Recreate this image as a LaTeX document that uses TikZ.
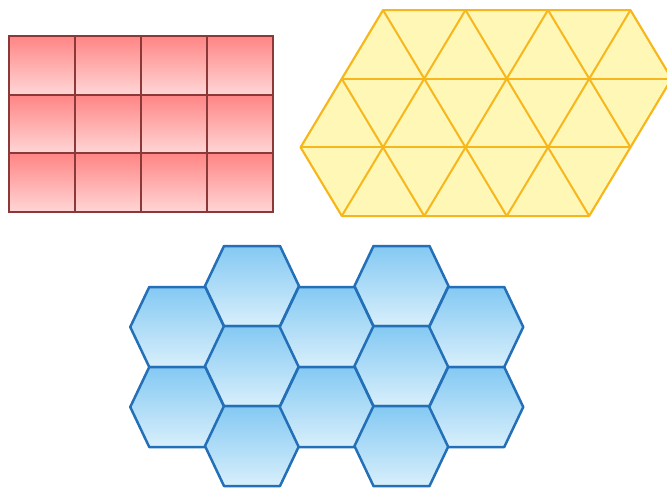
\documentclass[tikz,border=0pt]{standalone}
\usepackage{tikz}

\definecolor{redtop}{HTML}{FF8585}
\definecolor{redbot}{HTML}{FFD6D6}
\definecolor{redline}{HTML}{8A3838}
\definecolor{yellowfill}{HTML}{FFF7B6}
\definecolor{yellowline}{HTML}{F7B71C}
\definecolor{bluetop}{HTML}{84C9F3}
\definecolor{bluebot}{HTML}{D8EFFB}
\definecolor{blueline}{HTML}{2470B8}

\begin{document}
\begin{tikzpicture}[
  x=1pt, y=-1pt,
  redtile/.style={draw=redline, line width=2.2pt, top color=redtop, bottom color=redbot},
  yellowtile/.style={draw=yellowline, line width=2pt, line join=round},
  bluetile/.style={draw=blueline, line width=2.5pt, line join=round, top color=bluetop, bottom color=bluebot}
]
\useasboundingbox (0,0) rectangle (667,491);

% squares
\foreach \i in {0,...,3}
  \foreach \j in {0,...,2}
    \shadedraw[redtile] (9+66*\i,36+58.67*\j) rectangle ++(66,58.67);

% triangles
\begin{scope}
  \clip (383,10) -- (630.5,10) -- (671.75,78.67) -- (630.5,147.33) -- (589.25,216)
    -- (341.75,216) -- (300.5,147.33) -- (341.75,78.67) -- cycle;
  \fill[yellowfill] (290,0) rectangle (680,230);
  \foreach \i in {-4,...,4} {
    \draw[yellowtile] (383+82.5*\i,10) -- ++(-123.75,206);
    \draw[yellowtile] (383+82.5*\i,10) -- ++(123.75,206);
  }
  \draw[yellowtile] (290,78.67) -- (680,78.67);
  \draw[yellowtile] (290,147.33) -- (680,147.33);
\end{scope}
\draw[yellowtile] (383,10) -- (630.5,10) -- (671.75,78.67) -- (630.5,147.33) -- (589.25,216)
  -- (341.75,216) -- (300.5,147.33) -- (341.75,78.67) -- cycle;

% hexagons
\foreach \i/\y in {0/327, 0/407, 1/286, 1/366, 1/446, 2/327, 2/407,
                   3/286, 3/366, 3/446, 4/327, 4/407}
  \shadedraw[bluetile] ({130.25+74.75*\i},\y) -- ++(19,-40) -- ++(56,0)
    -- ++(19,40) -- ++(-19,40) -- ++(-56,0) -- cycle;
\end{tikzpicture}
\end{document}
